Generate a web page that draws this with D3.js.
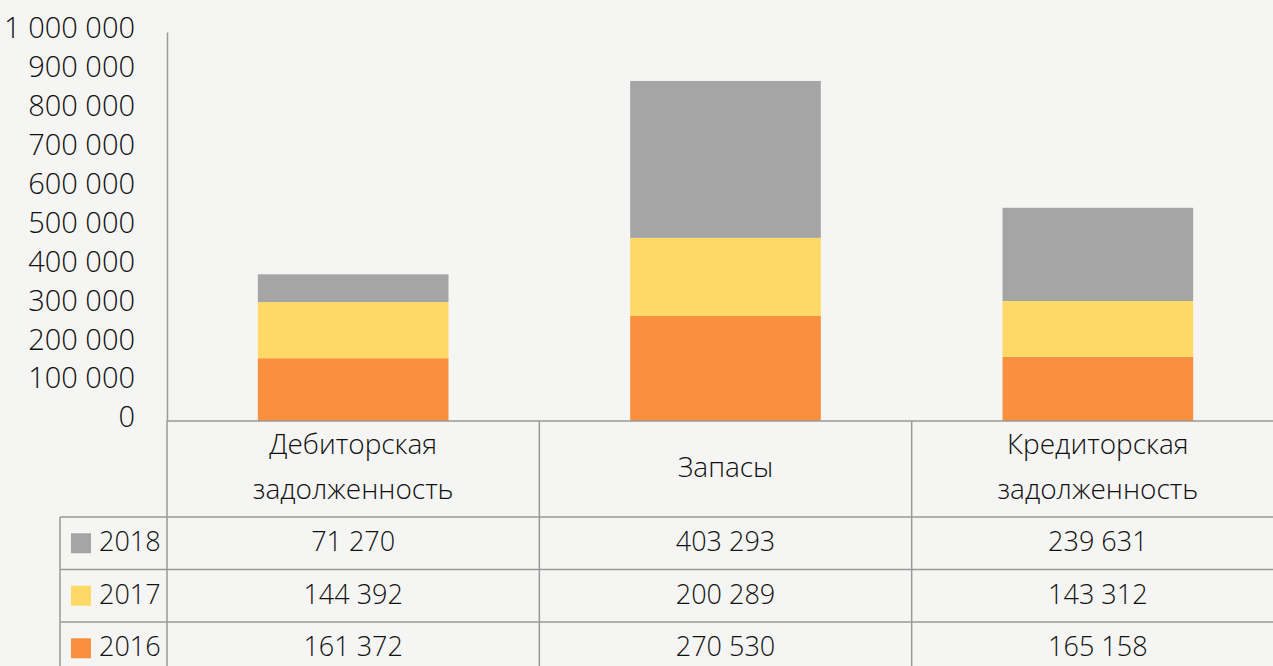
<!DOCTYPE html>
<html>
<head>
<meta charset="utf-8">
<script src="https://cdn.jsdelivr.net/npm/d3@7"></script>
<style>
  body { margin: 0; background: #f5f5f3; }
  svg { display: block; font-family: 'Open Sans', sans-serif; font-weight: 300; }
</style>
</head>
<body>
<div id="container"></div>
<script>
/* DATA */
const categories = [['Дебиторская', 'задолженность'], ['Запасы'], ['Кредиторская', 'задолженность']]
const years = ['2016', '2017', '2018']
const values2016 = [161372, 270530, 165158]
const values2017 = [144392, 200289, 143312]
const values2018 = [71270, 403293, 239631]
const yTicks = [0, 100000, 200000, 300000, 400000, 500000, 600000, 700000, 800000, 900000, 1000000]
const colors = ['#fa903e', '#ffd966', '#a5a5a5']

const width = 1273, height = 666
const plot = { left: 167, right: 1284, top: 32, bottom: 421 }
const rowTop = 517, rowH = 52.5, legendLeft = 60

const series = [values2016, values2017, values2018]
const fmt = v => d3.format(',')(v).replace(/,/g, ' ')

const svg = d3.select('#container').append('svg')
  .attr('width', width)
  .attr('height', height)

const xScale = d3.scaleBand()
  .domain(d3.range(categories.length))
  .range([plot.left, plot.right])

const yScale = d3.scaleLinear()
  .domain([0, 1000000])
  .range([plot.bottom, plot.top])

// stacked bars
const stackData = categories.map((c, i) => {
  const o = { i }
  years.forEach((y, k) => { o[y] = series[k][i] })
  return o
})
const stacked = d3.stack().keys(years)(stackData)
const barW = xScale.bandwidth() * 0.512

svg.append('g').selectAll('g')
  .data(stacked)
  .join('g')
  .attr('fill', (d, k) => colors[k])
  .selectAll('rect')
  .data(d => d)
  .join('rect')
  .attr('x', d => xScale(d.data.i) + (xScale.bandwidth() - barW) / 2)
  .attr('y', d => yScale(d[1]))
  .attr('width', barW)
  .attr('height', d => yScale(d[0]) - yScale(d[1]))

// y axis
const yAxis = d3.axisLeft(yScale).tickValues(yTicks).tickSize(0).tickPadding(32).tickFormat(fmt)
const yg = svg.append('g')
  .attr('transform', `translate(${plot.left},0)`)
  .call(yAxis)
yg.select('.domain').attr('stroke', '#999').attr('stroke-width', 1.5)
yg.selectAll('text')
  .attr('dy', '0.2em')
  .attr('font-size', 29)
  .attr('fill', '#111')
  .style('font-family', '"Open Sans", sans-serif')
  .style('font-weight', 300)

// table grid
const grid = svg.append('g').attr('stroke', '#999').attr('stroke-width', 1.5)
grid.append('line').attr('x1', plot.left).attr('x2', width).attr('y1', plot.bottom).attr('y2', plot.bottom)
d3.range(4).forEach(r => {
  grid.append('line')
    .attr('x1', legendLeft).attr('x2', width)
    .attr('y1', rowTop + r * rowH).attr('y2', rowTop + r * rowH)
})
grid.append('line').attr('x1', legendLeft).attr('x2', legendLeft).attr('y1', rowTop).attr('y2', height)
d3.range(categories.length + 1).forEach(i => {
  const x = i < categories.length ? xScale(i) : plot.right
  grid.append('line').attr('x1', x).attr('x2', x).attr('y1', plot.bottom).attr('y2', height)
})

// header labels
const header = svg.append('g')
  .attr('font-size', 28)
  .attr('fill', '#111')
  .attr('text-anchor', 'middle')
categories.forEach((lines, i) => {
  const cx = xScale(i) + xScale.bandwidth() / 2
  const mid = (plot.bottom + rowTop) / 2
  lines.forEach((t, j) => {
    header.append('text')
      .attr('x', cx)
      .attr('y', mid - 2 + (j - (lines.length - 1) / 2) * 45)
      .attr('dy', '0.35em')
      .text(t)
  })
})

// table rows: 2018 on top
const rows = [2, 1, 0]
const body = svg.append('g').attr('font-size', 27).attr('fill', '#111')
rows.forEach((k, r) => {
  const cy = rowTop + r * rowH + rowH / 2
  body.append('rect')
    .attr('x', 71).attr('y', cy - 10)
    .attr('width', 20).attr('height', 20)
    .attr('fill', colors[k])
  body.append('text')
    .attr('x', 99).attr('y', cy)
    .attr('dy', '0.3em')
    .text(years[k])
  series[k].forEach((v, i) => {
    body.append('text')
      .attr('x', xScale(i) + xScale.bandwidth() / 2)
      .attr('y', cy)
      .attr('dy', '0.3em')
      .attr('text-anchor', 'middle')
      .text(fmt(v))
  })
})
</script>
</body>
</html>
